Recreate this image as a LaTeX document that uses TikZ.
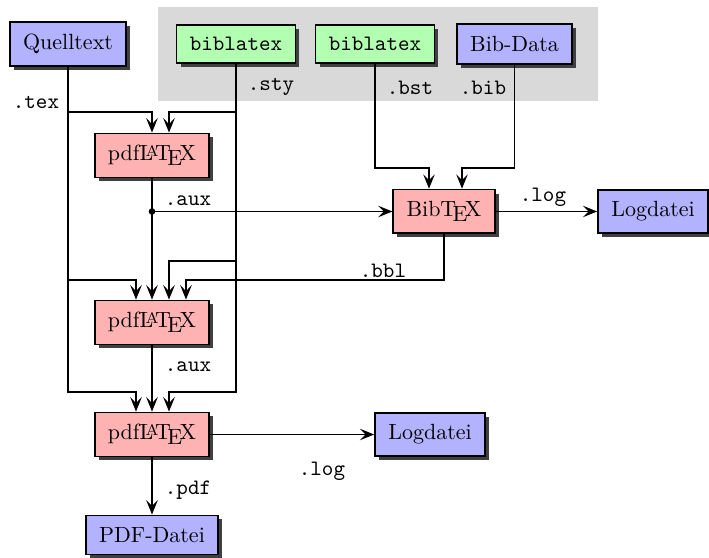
\documentclass[tikz,border=0pt]{standalone}
\usetikzlibrary{arrows.meta,shadows,calc}
\begin{document}
\begin{tikzpicture}[x=0.4545pt,y=-0.4545pt,
  box/.style={draw=black, line width=0.8pt, inner xsep=6pt, inner ysep=5.4pt,
    drop shadow={shadow xshift=1.8pt, shadow yshift=-1.8pt, fill=black!75, opacity=1}},
  file/.style={box, fill=blue!30},
  prog/.style={box, fill=red!30},
  pkg/.style={box, fill=green!30, font=\ttfamily},
  conn/.style={line width=0.85pt, -{Stealth[length=6.5pt,width=5.2pt,inset=2.6pt]}},
  lbl/.style={font=\ttfamily, inner sep=0pt}]
\useasboundingbox (0,0) rectangle (709,558);
\fill[gray!30] (158,7) rectangle (598,101);

% nodes
\node[file] (src) at (68,44) {Quelltext};
\node[pkg] (bl1) at (236,44) {biblatex};
\node[pkg] (bl2) at (375,44) {biblatex};
\node[file] (bib) at (514.5,44) {Bib-Data};
\node[prog] (p1) at (152,155.5) {pdf\LaTeX};
\node[prog] (bt) at (444,211.5) {Bib\TeX};
\node[file] (log1) at (653,211.5) {Logdatei};
\node[prog] (p2) at (152,322.5) {pdf\LaTeX};
\node[prog] (p3) at (152,434.5) {pdf\LaTeX};
\node[file] (log2) at (430,434.5) {Logdatei};
\node[file] (pdf) at (152,535) {PDF-Datei};

% helper levels and entry points
\coordinate (y1) at (0,112);
\coordinate (y2) at (0,261);
\coordinate (y3) at (0,280);
\coordinate (y4) at (0,392);
\coordinate (y5) at (0,168);
\coordinate (p1b) at ($(p1.north)+(17,0)$);
\coordinate (p2a) at ($(p2.north)+(-16,0)$);
\coordinate (p2c) at ($(p2.north)+(17,0)$);
\coordinate (p2d) at ($(p2.north)+(34,0)$);
\coordinate (p3a) at ($(p3.north)+(-16,0)$);
\coordinate (p3c) at ($(p3.north)+(17,0)$);
\coordinate (bta) at ($(bt.north)+(-15,0)$);
\coordinate (btb) at ($(bt.north)+(18,0)$);
\coordinate (auxdot) at (p1.south |- bt.west);

% connectors
\draw[conn] (src.south) |- (y1 -| p1.north) -- (p1.north);
\draw[conn] (src.south) |- (y3 -| p2a) -- (p2a);
\draw[conn] (src.south) |- (y4 -| p3a) -- (p3a);
\draw[conn] (bl1.south) |- (y1 -| p1b) -- (p1b);
\draw[conn] (bl1.south) |- (y2 -| p2c) -- (p2c);
\draw[conn] (bl1.south) |- (y4 -| p3c) -- (p3c);
\draw[conn] (p1.south) -- (p2.north);
\fill (auxdot) circle[radius=1.5pt];
\draw[conn] (auxdot) -- (bt.west);
\draw[conn] (bl2.south) |- (y5 -| bta) -- (bta);
\draw[conn] (bib.south) |- (y5 -| btb) -- (btb);
\draw[conn] (bt.east) -- (log1.west);
\draw[conn] (bt.south) |- (y3 -| p2d) -- (p2d);
\draw[conn] (p2.south) -- (p3.north);
\draw[conn] (p3.east) -- (log2.west);
\draw[conn] (p3.south) -- (pdf.north);

% labels
\node[lbl] (ltex) at (36,102) {.tex};
\node[lbl] (lsty) at (271,87) {.sty};
\node[lbl] (lbst) at (410,88) {.bst};
\node[lbl] (lbib) at (483,88) {.bib};
\node[lbl] (laux1) at (188,201) {.aux};
\node[lbl] (llog1) at (543,197) {.log};
\node[lbl] (lbbl) at (383,271) {.bbl};
\node[lbl] (laux2) at (188,367) {.aux};
\node[lbl] (llog2) at (322,471) {.log};
\node[lbl] (lpdf) at (188,490) {.pdf};
\end{tikzpicture}
\end{document}
